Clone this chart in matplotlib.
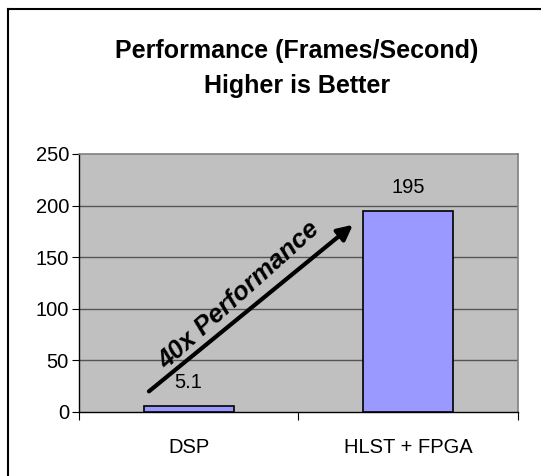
import numpy as np
import matplotlib.pyplot as plt
from matplotlib.lines import Line2D

plt.rcParams['font.family'] = ['Liberation Sans', 'DejaVu Sans']

categories = ["DSP", "HLST + FPGA"]
fps = [5.1, 195]
labels = ["5.1", "195"]
yticks = [0, 50, 100, 150, 200, 250]

fig = plt.figure(figsize=(5.41, 4.76), dpi=100)
ax = fig.add_axes([0.1455, 0.1351, 0.812, 0.5414])
ax.set_facecolor("#C0C0C0")

x = np.arange(len(categories))
ax.bar(x, fps, width=0.41, color="#9999FF", edgecolor="black", linewidth=1.2, zorder=3)

for xi, v, lab in zip(x, fps, labels):
    ax.annotate(lab, (xi, v), xytext=(0, 17), textcoords="offset points",
                ha="center", va="center", fontsize=14.5)

ax.set_xlim(-0.5, 1.5)
ax.set_ylim(0, 250)
ax.set_yticks(yticks)
ax.tick_params(axis="y", labelsize=14.5, length=5, direction="out", pad=2)
for y in yticks[1:-1]:
    ax.axhline(y, color="#555555", linewidth=1, zorder=1)

# category ticks on the boundaries, labels at the centres
ax.set_xticks([-0.5, 0.5, 1.5])
ax.set_xticklabels([])
ax.set_xticks(x, minor=True)
ax.set_xticklabels(categories, minor=True, fontsize=14.5)
ax.tick_params(axis="x", which="major", length=6, direction="out")
ax.tick_params(axis="x", which="minor", length=0, pad=19)

for s in ["left", "bottom"]:
    ax.spines[s].set_color("black")
    ax.spines[s].set_linewidth(1)
for s in ["top", "right"]:
    ax.spines[s].set_color("#808080")
    ax.spines[s].set_linewidth(1.2)

ax.annotate("", xy=(0.758, 183), xytext=(-0.19, 18),
            arrowprops=dict(arrowstyle="-|>,head_length=0.9,head_width=0.45",
                            color="black", lw=3), zorder=4)
ax.text(0.23, 113, "40x Performance", rotation=42, ha="center", va="center",
        fontsize=18.5, fontweight="bold", fontstyle="italic", rotation_mode="anchor", zorder=4)

fig.text(0.549, 0.893, "Performance (Frames/Second)", ha="center", va="center",
         fontsize=18, fontweight="bold")
fig.text(0.549, 0.82, "Higher is Better", ha="center", va="center",
         fontsize=18, fontweight="bold")

# outer chart frame (top and left edges visible)
fig.add_artist(Line2D([8 / 541, 8 / 541], [0, 1 - 9 / 476], color="black", lw=1.5,
                      transform=fig.transFigure))
fig.add_artist(Line2D([8 / 541, 1], [1 - 9 / 476, 1 - 9 / 476], color="black", lw=1.5,
                      transform=fig.transFigure))

fig.savefig("out.png", dpi=100)
